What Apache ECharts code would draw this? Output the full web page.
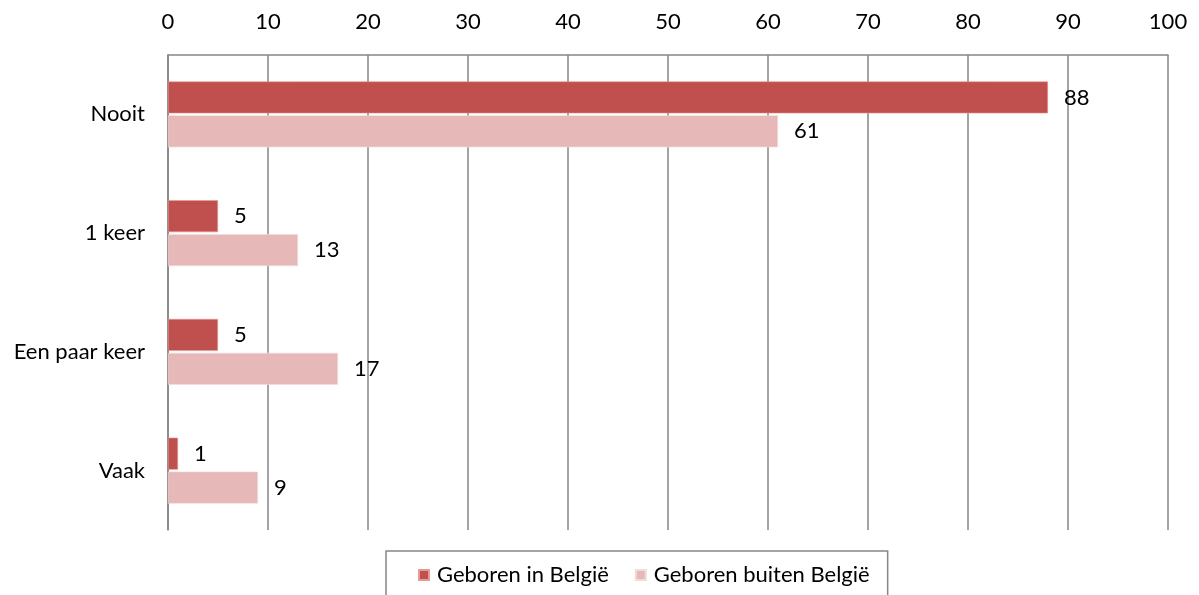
<!DOCTYPE html>
<html>
<head>
<meta charset="utf-8">
<script src="https://cdn.jsdelivr.net/npm/echarts@6/dist/echarts.min.js"></script>
<style>
  html, body { margin: 0; padding: 0; background: #fff; }
  #chart { width: 1199px; height: 595px; }
</style>
</head>
<body>
<div id="chart"></div>
<script>
const categories = ['Nooit', '1 keer', 'Een paar keer', 'Vaak'];
const seriesNames = ['Geboren in België', 'Geboren buiten België'];
const bornInBelgium = [88, 5, 5, 1];
const bornOutsideBelgium = [61, 13, 17, 9];
const axisTicks = [0, 10, 20, 30, 40, 50, 60, 70, 80, 90, 100];

const FONT = 'Lato, "Open Sans", sans-serif';
const FONT_SIZE = 22;
const TEXT = '#000';
const GRID_LINE = '#868686';

const chart = echarts.init(document.getElementById('chart'), null, { renderer: 'canvas' });

const labelStyle = {
  show: true,
  position: 'right',
  distance: 16,
  color: TEXT,
  fontFamily: FONT,
  fontSize: FONT_SIZE
};

chart.setOption({
  animation: false,
  backgroundColor: '#fff',
  grid: { left: 168, right: 31, top: 55, bottom: 65, containLabel: false },
  xAxis: {
    type: 'value',
    position: 'top',
    min: axisTicks[0],
    max: axisTicks[axisTicks.length - 1],
    interval: 10,
    axisLine: { show: true, lineStyle: { color: GRID_LINE, width: 1.5 } },
    axisTick: { show: false },
    axisLabel: { color: TEXT, fontFamily: FONT, fontSize: FONT_SIZE, margin: 22 },
    splitLine: { show: true, lineStyle: { color: GRID_LINE, width: 1.5 } }
  },
  yAxis: {
    type: 'category',
    data: categories,
    inverse: true,
    axisLine: { show: true, lineStyle: { color: GRID_LINE, width: 1.5 } },
    axisTick: { show: false },
    axisLabel: { color: TEXT, fontFamily: FONT, fontSize: FONT_SIZE, margin: 23 },
    splitLine: { show: false }
  },
  legend: {
    left: 386,
    top: 551,
    itemWidth: 10,
    itemHeight: 10,
    itemGap: 26,
    padding: [13, 18, 30, 32],
    borderColor: GRID_LINE,
    borderWidth: 1.5,
    icon: 'rect',
    textStyle: { color: TEXT, fontFamily: FONT, fontSize: FONT_SIZE, padding: [0, 0, 0, 3] },
    data: seriesNames
  },
  series: [
    {
      name: seriesNames[0],
      type: 'bar',
      data: bornInBelgium,
      barWidth: 32,
      barGap: '6%',
      itemStyle: { color: '#C0504D', borderColor: '#E89A98', borderWidth: 0.6 },
      label: labelStyle
    },
    {
      name: seriesNames[1],
      type: 'bar',
      data: bornOutsideBelgium,
      barWidth: 32,
      barGap: '6%',
      itemStyle: { color: '#E6B9B8', borderColor: '#F2DCDB', borderWidth: 0.6 },
      label: labelStyle
    }
  ]
});
</script>
</body>
</html>
